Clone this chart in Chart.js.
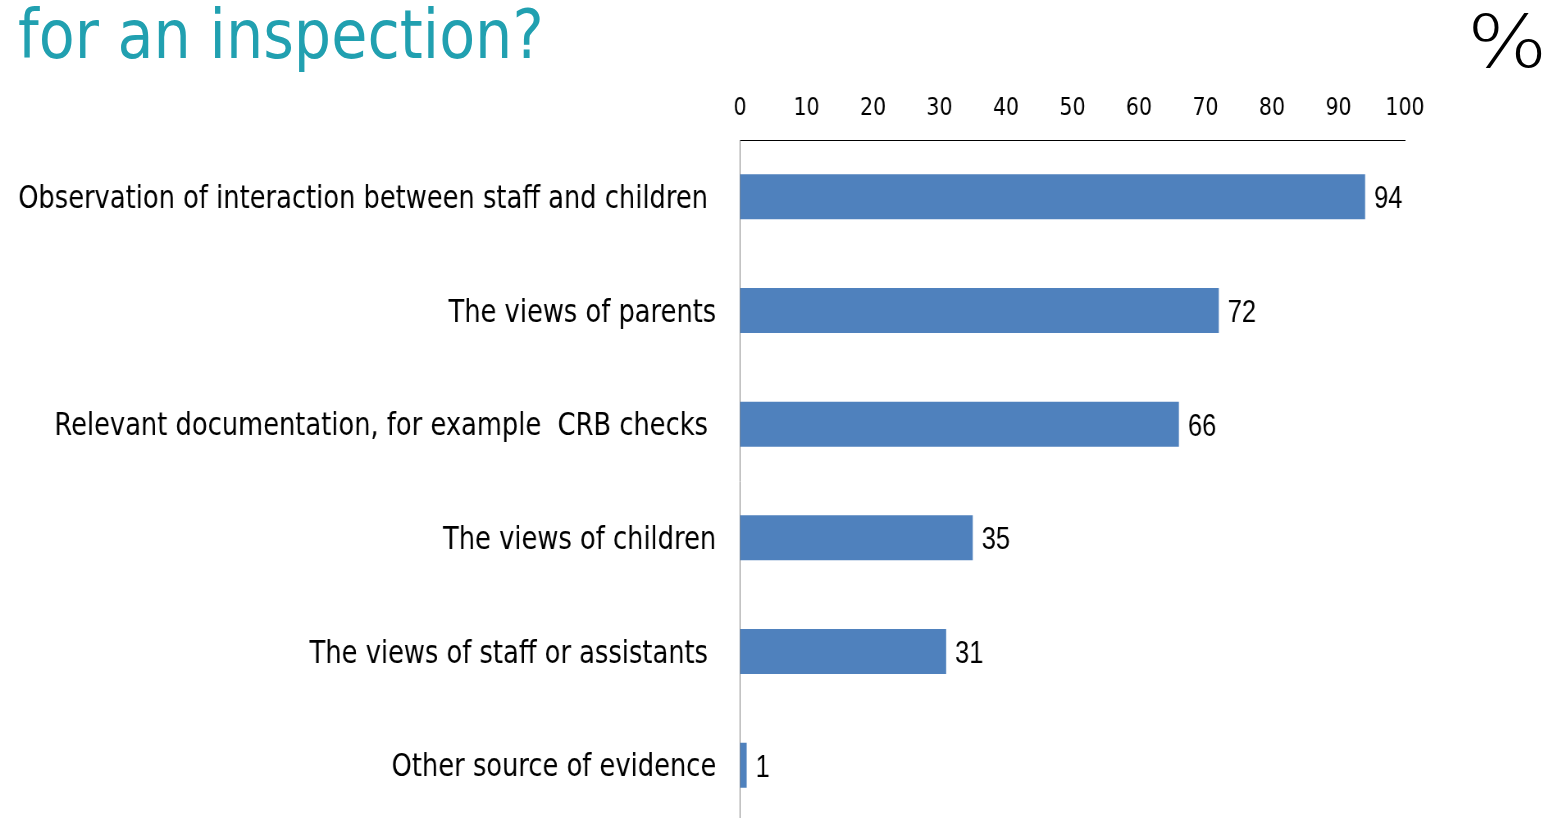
<!DOCTYPE html>
<html>
<head>
<meta charset="utf-8">
<title>for an inspection?</title>
<script src="https://cdn.jsdelivr.net/npm/chart.js@4.4.1/dist/chart.umd.min.js"></script>
<style>
  html, body { margin: 0; padding: 0; background: #fff; width: 1555px; height: 818px; overflow: hidden; }
  #title {
    position: absolute; left: 18px; top: 1px; margin: 0;
    font-family: "DejaVu Sans", sans-serif; font-size: 68px; line-height: 68px; font-weight: normal;
    color: #21a0b0; white-space: nowrap;
    transform: scaleX(0.865); transform-origin: 0 0;
  }
  #pct {
    position: absolute; left: 1467px; top: 5px;
    font-family: "DejaVu Sans", sans-serif; font-size: 73px; line-height: 73px; font-weight: 200;
    color: #000;
    transform: scaleX(1.16); transform-origin: 0 0;
  }
  /* the slide text is a bit condensed, so the chart is drawn wider and squeezed */
  #wrap { position: absolute; left: 0; top: 0; transform: scaleX(0.82); transform-origin: 0 0; }
  #evidenceChart { display: block; }
</style>
</head>
<body>
<h1 id="title">for an inspection?</h1>
<div id="pct">%</div>
<div id="wrap"><canvas id="evidenceChart" width="1896" height="830"></canvas></div>

<script>
// data
const categories = [
  'Observation of interaction between staff and children ',
  'The views of parents',
  'Relevant documentation, for example  CRB checks ',
  'The views of children',
  'The views of staff or assistants ',
  'Other source of evidence'
];
const percentages = [94, 72, 66, 35, 31, 1];
const axisTicks = [0, 10, 20, 30, 40, 50, 60, 70, 80, 90, 100];

const SQUEEZE = 0.82;          // same as the css scaleX on #wrap
const PLOT_LEFT = 740 / SQUEEZE;
const PLOT_RIGHT = 1405 / SQUEEZE;
const WRAP_W = 1896;

// value labels next to each bar
const valueLabels = {
  id: 'valueLabels',
  afterDatasetsDraw(chart) {
    const ctx = chart.ctx;
    const meta = chart.getDatasetMeta(0);
    ctx.save();
    ctx.font = '31px "Liberation Sans", Arial, sans-serif';
    ctx.fillStyle = '#000';
    ctx.textAlign = 'left';
    ctx.textBaseline = 'middle';
    meta.data.forEach((bar, i) => {
      ctx.fillText(String(percentages[i]), bar.x + 11, bar.y + 3);
    });
    ctx.restore();
  }
};

new Chart(document.getElementById('evidenceChart'), {
  type: 'bar',
  data: {
    labels: categories,
    datasets: [{
      data: percentages,
      backgroundColor: '#4f81bd',
      borderWidth: 0,
      barPercentage: 0.396,
      categoryPercentage: 1
    }]
  },
  options: {
    indexAxis: 'y',
    responsive: false,
    animation: false,
    layout: { padding: { left: 0, top: 0, right: WRAP_W - PLOT_RIGHT, bottom: 8 } },
    plugins: { legend: { display: false }, tooltip: { enabled: false } },
    scales: {
      x: {
        position: 'top',
        min: axisTicks[0],
        max: axisTicks[axisTicks.length - 1],
        afterBuildTicks: (scale) => { scale.ticks = axisTicks.map(v => ({ value: v })); },
        afterFit: (scale) => { scale.height = 140; },
        grid: { display: false },
        border: { display: true, color: '#000', width: 1 },
        ticks: {
          color: '#000',
          padding: 9,
          maxRotation: 0,
          font: { family: '"DejaVu Sans", sans-serif', size: 25 }
        }
      },
      y: {
        afterFit: (scale) => {
          scale.width = PLOT_LEFT;
          // the axis runs off the bottom of the slide, no room kept for label overhang
          scale.paddingTop = 0;
          scale.paddingBottom = 0;
        },
        grid: { display: false },
        border: { display: true, color: '#868686', width: 1 },
        ticks: {
          color: '#000',
          padding: 21,
          labelOffset: 3,
          font: { family: '"DejaVu Sans", sans-serif', size: 31.4 }
        }
      }
    }
  },
  plugins: [valueLabels]
});
</script>
</body>
</html>
